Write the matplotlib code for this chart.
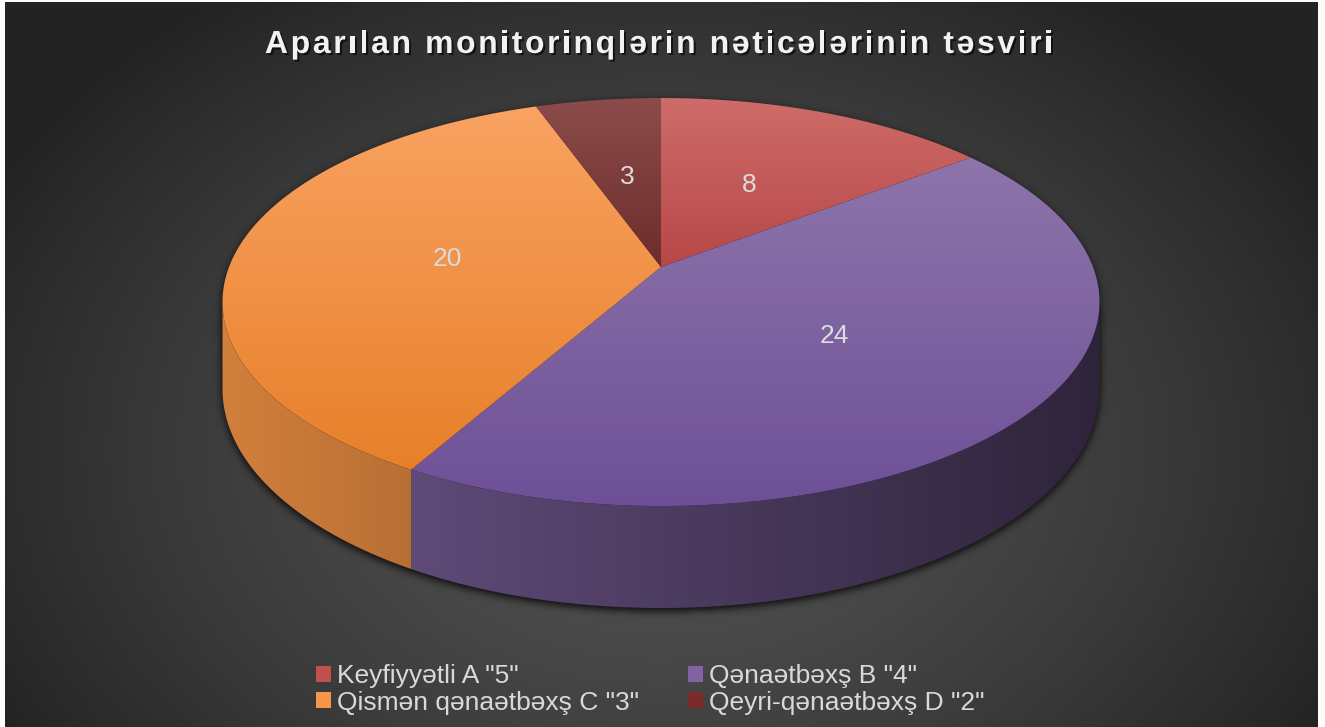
import numpy as np
import matplotlib
matplotlib.use("Agg")
import matplotlib.pyplot as plt
from matplotlib.patches import Polygon, Patch
from matplotlib.path import Path
from matplotlib.font_manager import FontProperties
import matplotlib.patheffects as pe

# ---------------- data ----------------
title = "Aparılan monitorinqlərin nəticələrinin təsviri"
categories = ['Keyfiyyətli A "5"', 'Qənaətbəxş B "4"',
              'Qismən qənaətbəxş C "3"', 'Qeyri-qənaətbəxş D "2"']
values = [8, 24, 20, 3]
colors = ['#c0504d', '#8064a2', '#f79646', '#7b2c2a']

# top-face vertical gradient colours (at y=98 and y=506)
top_grad = [((206, 108, 106), (150, 20, 22)),
            ((148, 123, 174), (109, 80, 151)),
            ((250, 163, 99), (229, 124, 36)),
            ((140, 76, 76), (67, 0, 0))]
side_base = [(192, 80, 77), (128, 100, 162), (247, 150, 70), (123, 44, 42)]

W, H = 1325, 727
FONT = 'Liberation Sans'
fig = plt.figure(figsize=(W / 100, H / 100), dpi=100, facecolor='white')
ax = fig.add_axes([0, 0, 1, 1])
ax.set_axis_off()

# ---------------- background ----------------
X0, X1, Y0, Y1 = 5, 1318, 2, 727
yy, xx = np.mgrid[Y0:Y1, X0:X1] + 0.5
d = np.sqrt(((xx - 662) / 760) ** 2 + ((yy - 450) / 560) ** 2)
d = np.clip(d, 0, 1) ** 1.5
c_in = np.array([0x52, 0x52, 0x52]) / 255
c_out = np.array([0x23, 0x23, 0x23]) / 255
bg = c_in * (1 - d[..., None]) + c_out * d[..., None]
ax.imshow(bg, extent=(X0, X1, Y1, Y0), aspect='auto', zorder=0, interpolation='bilinear')

# ---------------- projection of the pie ----------------
CX, CY, A, B, K, T = 661, 267, 432, 198, 0.1716, 84.5


def proj(theta, r=1.0):
    u = r * np.sin(theta)
    v = r * np.cos(theta)
    den = 1 + K * v
    return CX + A * u / den, CY - B * v / den, T / den


total = float(sum(values))
bounds = np.concatenate([[0], np.cumsum(values)]) / total * 2 * np.pi
t1 = np.arccos(-K)
t2 = 2 * np.pi - t1

# shadow
ths = np.linspace(t1, t2, 300)
xb, yb, hb = proj(ths)
tht = np.linspace(t2, t1 + 2 * np.pi, 400)
xt, yt, _ = proj(tht)
sil = np.vstack([np.column_stack([xb, yb + hb]), np.column_stack([xt, yt])])
sil[:, 1] += 3
pth = Path(sil)
gy, gx = np.mgrid[0:H, 0:W] + 0.5
mask = pth.contains_points(np.column_stack([gx.ravel(), gy.ravel()])).reshape(H, W).astype(float)


def blur(img, s):
    r = int(3 * s)
    k = np.exp(-0.5 * (np.arange(-r, r + 1) / s) ** 2)
    k /= k.sum()
    img = np.apply_along_axis(lambda m: np.convolve(m, k, mode='same'), 0, img)
    img = np.apply_along_axis(lambda m: np.convolve(m, k, mode='same'), 1, img)
    return img


sh = blur(mask, 4.0)
shadow = np.zeros((H, W, 4))
shadow[..., 3] = np.clip(sh * 0.85, 0, 1)
ax.imshow(shadow, extent=(0, W, H, 0), aspect='auto', zorder=1, interpolation='bilinear')

# side walls
xs_line = np.arange(W) + 0.5
fac = np.clip(0.85 - 0.49 * (xs_line - 222) / 878, 0.3, 0.9)
for i in range(len(values)):
    a, b = bounds[i], bounds[i + 1]
    lo, hi = max(a, t1), min(b, t2)
    if hi <= lo:
        continue
    th = np.linspace(lo, hi, 200)
    x, y, h = proj(th)
    poly = np.vstack([np.column_stack([x, y]), np.column_stack([x[::-1], (y + h)[::-1]])])
    patch = Polygon(poly, closed=True, transform=ax.transData)
    base = np.array(side_base[i]) / 255
    grad = np.clip(fac[:, None] * base[None, :], 0, 1)[None, :, :]
    im = ax.imshow(grad, extent=(0, W, H, 0), aspect='auto', zorder=2, interpolation='bilinear')
    im.set_clip_path(patch)

# top faces
ys_line = np.arange(H) + 0.5
for i in range(len(values)):
    a, b = bounds[i], bounds[i + 1]
    th = np.linspace(a, b, 300)
    x, y, _ = proj(th)
    poly = np.vstack([[CX, CY], np.column_stack([x, y])])
    patch = Polygon(poly, closed=True, transform=ax.transData)
    c0 = np.array(top_grad[i][0]) / 255
    c1 = np.array(top_grad[i][1]) / 255
    t = ((ys_line - 98) / 408)[:, None]
    grad = np.clip(c0 + (c1 - c0) * t, 0, 1)[:, None, :]
    im = ax.imshow(grad, extent=(0, W, H, 0), aspect='auto', zorder=3, interpolation='bilinear')
    im.set_clip_path(patch)

# data labels
for i, v in enumerate(values):
    mid = 0.5 * (bounds[i] + bounds[i + 1])
    lx, ly, _ = proj(mid, 0.5)
    ax.text(lx, ly, str(v), ha='center', va='center', color='#dcdcdc',
            fontsize=19, family=FONT, zorder=5)

# ---------------- title with letter spacing ----------------
renderer = fig.canvas.get_renderer()
tfp = FontProperties(family=FONT, weight='bold', size=23)
spacing = 2.6
widths = [renderer.get_text_width_height_descent(ch, tfp, ismath=False)[0] for ch in title]
tot = sum(widths) + spacing * (len(title) - 1)
xpos = 659 - tot / 2
for ch, w in zip(title, widths):
    ax.text(xpos, 53, ch, ha='left', va='baseline', color='#f2f2f2', fontproperties=tfp, zorder=6,
            path_effects=[pe.withSimplePatchShadow(offset=(1.5, -1.5), shadow_rgbFace='black', alpha=0.6)])
    xpos += w + spacing

# ---------------- legend ----------------
handles = [Patch(facecolor=c, edgecolor='none') for c in colors]
order = [0, 2, 1, 3]
leg = ax.legend([handles[i] for i in order], [categories[i] for i in order], ncol=2,
                loc='upper left', bbox_to_anchor=(316 / W, 1 - 664 / H), frameon=False,
                prop=FontProperties(family=FONT, size=19), labelcolor='#d9d9d9',
                handlelength=0.57, handleheight=0.57, handletextpad=0.23,
                columnspacing=1.86, labelspacing=0.1, borderaxespad=0, borderpad=0)
leg.set_zorder(7)

ax.set_xlim(0, W)
ax.set_ylim(H, 0)
fig.savefig('out.png', dpi=100, facecolor='white')
